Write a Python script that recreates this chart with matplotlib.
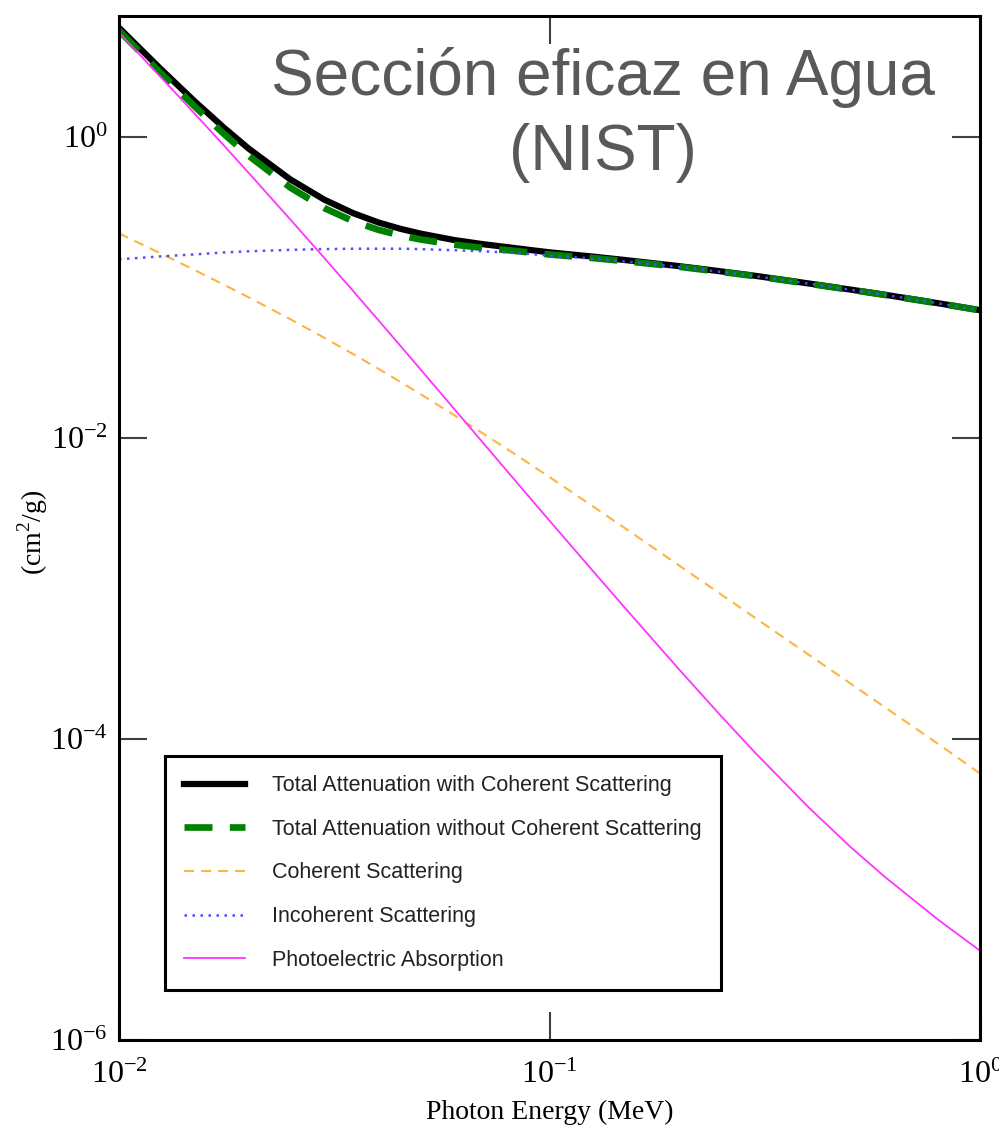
import numpy as np
import matplotlib.pyplot as plt
from matplotlib.ticker import FixedLocator, NullLocator, FuncFormatter

# Water (H2O) photon cross sections, cm^2/g, energies in MeV
energy = [0.010, 0.0125, 0.015, 0.0175, 0.020, 0.025, 0.030, 0.035, 0.040,
          0.045, 0.050, 0.060, 0.070, 0.080, 0.090, 0.100, 0.125, 0.150,
          0.200, 0.250, 0.300, 0.400, 0.500, 0.600, 0.800, 1.000]

coherent = [0.229, 0.1683, 0.1304, 0.1046, 0.0861, 0.0616, 0.0463, 0.0361,
            0.0289, 0.02363, 0.01967, 0.01422, 0.01074, 0.00839, 0.00672,
            0.00550, 0.003578, 0.002507, 0.001422, 9.16e-4, 6.40e-4,
            3.63e-4, 2.34e-4, 1.632e-4, 9.26e-5, 5.90e-5]

incoherent = [0.154, 0.161, 0.166, 0.171, 0.174, 0.178, 0.180, 0.181, 0.181,
              0.181, 0.180, 0.177, 0.174, 0.171, 0.167, 0.163, 0.156, 0.149,
              0.137, 0.127, 0.119, 0.106, 0.0966, 0.0894, 0.0785, 0.0706]

photoelectric = [4.94, 2.502, 1.427, 0.8823, 0.5784, 0.2833, 0.1569,
                 0.09467, 0.06085, 0.04111, 0.02889, 0.01566, 0.00933,
                 0.005956, 0.004014, 0.002824, 0.001347, 7.39e-4, 2.90e-4,
                 1.427e-4, 8.14e-5, 3.51e-5, 1.92e-5, 1.218e-5, 6.29e-6,
                 3.92e-6]

total_with_coh = [5.323, 2.831, 1.723, 1.158, 0.8385, 0.5229, 0.3832,
                  0.3118, 0.2708, 0.2457, 0.2286, 0.2069, 0.1941, 0.1853,
                  0.1777, 0.1713, 0.1609, 0.1522, 0.1387, 0.1281, 0.1197,
                  0.1064, 0.0969, 0.0896, 0.0786, 0.0707]

total_without_coh = [5.094, 2.663, 1.593, 1.053, 0.7524, 0.4613, 0.3369,
                     0.2757, 0.2419, 0.2221, 0.2089, 0.1927, 0.1833, 0.1770,
                     0.1710, 0.1658, 0.1573, 0.1497, 0.1373, 0.1271, 0.1191,
                     0.1060, 0.0966, 0.0894, 0.0785, 0.0706]

labels = ['Total Attenuation with Coherent Scattering',
          'Total Attenuation without Coherent Scattering',
          'Coherent Scattering',
          'Incoherent Scattering',
          'Photoelectric Absorption']

plt.rcParams['font.family'] = 'Liberation Serif'
plt.rcParams['mathtext.fontset'] = 'custom'
plt.rcParams['mathtext.rm'] = 'Liberation Serif'

fig = plt.figure(figsize=(9.99, 11.29), dpi=100)
ax = fig.add_axes([119 / 999, 1 - 1040 / 1129, 861 / 999, 1024 / 1129])

ax.plot(energy, total_with_coh, color='black', lw=4.5, label=labels[0])
ax.plot(energy, total_without_coh, color='#008000', lw=4.8,
        dashes=(4.2, 2.6), label=labels[1])
ax.plot(energy, coherent, color='#ffb340', lw=1.5, dashes=(4.8, 3.4),
        label=labels[2])
ax.plot(energy, incoherent, color='#4d4dff', lw=1.8, dashes=(1, 2.2),
        label=labels[3])
ax.plot(energy, photoelectric, color='#ff33ff', lw=1.3, label=labels[4])

ax.set_xscale('log')
ax.set_yscale('log')
ax.set_xlim(0.01, 1)
ax.set_ylim(1e-6, 6.37)


def pow10(v, pos):
    return r'$\mathregular{10^{%d}}$' % int(round(np.log10(v)))


ax.xaxis.set_major_locator(FixedLocator([0.01, 0.1, 1]))
ax.yaxis.set_major_locator(FixedLocator([1e-6, 1e-4, 1e-2, 1]))
ax.xaxis.set_minor_locator(NullLocator())
ax.yaxis.set_minor_locator(NullLocator())
ax.xaxis.set_major_formatter(FuncFormatter(pow10))
ax.yaxis.set_major_formatter(FuncFormatter(pow10))

ax.tick_params(which='major', direction='in', length=20, width=1.5,
               color='#404040', top=True, right=True, labelsize=23)
ax.tick_params(axis='x', pad=15)
ax.tick_params(axis='y', pad=8)
for s in ax.spines.values():
    s.set_linewidth(2.2)

ax.set_xlabel('Photon Energy (MeV)', fontsize=20)
ax.xaxis.label.set_va('center')
ax.xaxis.set_label_coords(0.5, -0.0703)
ax.set_ylabel(r'(cm$^{2}$/g)', fontsize=20)
ax.yaxis.label.set_va('center')
ax.yaxis.set_label_coords(-0.1005, 0.496)

leg = ax.legend(loc='lower left', bbox_to_anchor=(0.0534, 0.0488),
                borderaxespad=0, frameon=True, fancybox=False,
                prop={'family': 'Liberation Sans', 'size': 15.5},
                handlelength=2.8, handletextpad=1.25, labelspacing=1.05,
                borderpad=0.9)
leg.get_frame().set_edgecolor('black')
leg.get_frame().set_linewidth(2.2)
leg.get_frame().set_alpha(1)
for t in leg.get_texts():
    t.set_color('#222222')

fig.text(603 / 999, 1 - 95 / 1129, 'Sección eficaz en Agua', ha='center',
         va='baseline', fontsize=46, color='#595959', family='Liberation Sans')
fig.text(603 / 999, 1 - 170 / 1129, '(NIST)', ha='center', va='baseline',
         fontsize=46, color='#595959', family='Liberation Sans')

fig.savefig('out.png', dpi=100)
